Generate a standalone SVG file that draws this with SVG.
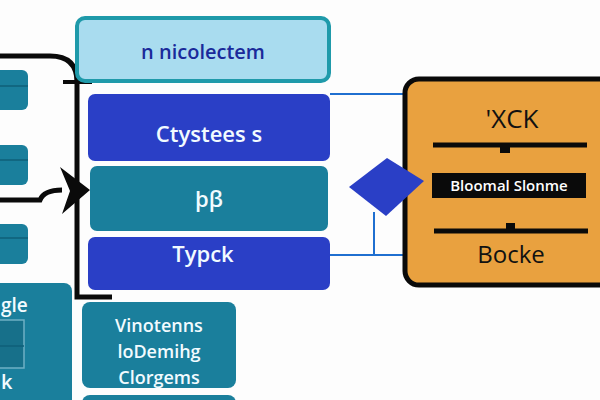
<svg xmlns="http://www.w3.org/2000/svg" width="600" height="400" viewBox="0 0 600 400">
<style>
.blue{fill:#2a3fc6}
.teal{fill:#1a7f9c}
.wt{font-family:"Open Sans","DejaVu Sans",sans-serif;font-weight:600;fill:#f2fbff;text-anchor:middle}
.bk{font-family:"Open Sans","DejaVu Sans",sans-serif;fill:#111;text-anchor:middle}
.conn{fill:none;stroke:#0a0a0a;stroke-width:5}
.thin{fill:none;stroke:#1f6fd0;stroke-width:2}
</style>
<rect width="600" height="400" fill="#fdfdfd"/>
<g id="left-partials">
<rect x="-10" y="70" width="38" height="40" rx="6" class="teal"/>
<line x1="0" y1="86" x2="28" y2="86" stroke="#0f5f78" stroke-width="1.5"/>
<rect x="-10" y="145" width="38" height="40" rx="6" class="teal"/>
<line x1="0" y1="160" x2="28" y2="160" stroke="#0f5f78" stroke-width="1.5"/>
<rect x="-10" y="224" width="38" height="40" rx="6" class="teal"/>
<line x1="0" y1="238" x2="28" y2="238" stroke="#0f5f78" stroke-width="1.5"/>
<rect x="-10" y="283" width="82" height="130" rx="8" class="teal"/>
<rect x="-5" y="320" width="29" height="48" fill="#17708a" stroke="#6fb0c4" stroke-width="1.5"/>
<line x1="0" y1="346" x2="24" y2="346" stroke="#0f5f78" stroke-width="1.5"/>
<text x="1" y="312" class="wt" style="text-anchor:start" font-size="19">gle</text>
<text x="1" y="389" class="wt" style="text-anchor:start" font-size="20">k</text>
</g>
<g id="connectors">
<path class="conn" d="M0,56 H50 Q77,56 77,82 V297 H112"/>
<line x1="63" y1="82" x2="92" y2="82" stroke="#0a0a0a" stroke-width="4"/>
<path class="conn" d="M0,200 H40 Q44,190 62,190" stroke-width="4"/>
<polygon points="60,167 90,190 62,214 70,191" fill="#0a0a0a"/>
<line class="thin" x1="330" y1="94" x2="408" y2="94"/>
<line class="thin" x1="330" y1="255" x2="405" y2="255"/>
<line class="thin" x1="374" y1="212" x2="374" y2="255"/>
</g>
<g id="n-top">
<rect x="77" y="18" width="252" height="63" rx="8" fill="#a9dcef" stroke="#1f9aaa" stroke-width="4"/>
<text x="203" y="59" font-family="Open Sans,DejaVu Sans,sans-serif" font-weight="600" font-size="20" fill="#1a2a9a" text-anchor="middle">n nicolectem</text>
</g>
<g id="n-ctystees">
<rect x="88" y="94" width="242" height="67" rx="7" class="blue"/>
<text x="209" y="142" class="wt" font-size="22">Ctystees s</text>
</g>
<g id="n-bp">
<rect x="90" y="166" width="238" height="65" rx="7" class="teal"/>
<text x="209" y="207" class="wt" font-size="22">þβ</text>
</g>
<g id="n-typck">
<rect x="88" y="237" width="242" height="53" rx="7" class="blue"/>
<text x="203" y="262" class="wt" font-size="22">Typck</text>
</g>
<g id="n-vinotenns">
<rect x="82" y="302" width="154" height="86" rx="8" class="teal"/>
<text x="159" y="332" class="wt" font-size="18">Vinotenns</text>
<text x="159" y="358" class="wt" font-size="18">loDemihg</text>
<text x="159" y="384" class="wt" font-size="18">Clorgems</text>
</g>
<g id="n-bottom">
<rect x="82" y="395" width="154" height="20" rx="8" class="teal"/>
</g>
<g id="n-orange">
<rect x="405" y="79" width="210" height="206" rx="14" fill="#e9a13f" stroke="#0a0a0a" stroke-width="5"/>
<text x="512" y="128" class="bk" font-size="26">'XCK</text>
<line x1="433" y1="145" x2="587" y2="145" stroke="#0a0a0a" stroke-width="5"/>
<rect x="500" y="146" width="10" height="7" fill="#0a0a0a"/>
<rect x="432" y="173" width="154" height="25" fill="#0a0a0a"/>
<text x="509" y="191" font-family="Open Sans,DejaVu Sans,sans-serif" font-weight="600" font-size="15" fill="#fff" text-anchor="middle">Bloomal Slonme</text>
<rect x="506" y="223" width="9" height="7" fill="#0a0a0a"/>
<line x1="434" y1="231" x2="588" y2="231" stroke="#0a0a0a" stroke-width="5"/>
<text x="511" y="263" class="bk" font-size="24">Bocke</text>
</g>
<g id="n-diamond">
<polygon points="349,187 387,158 424,181 386,216" fill="#2a3fc6"/>
</g>
</svg>
